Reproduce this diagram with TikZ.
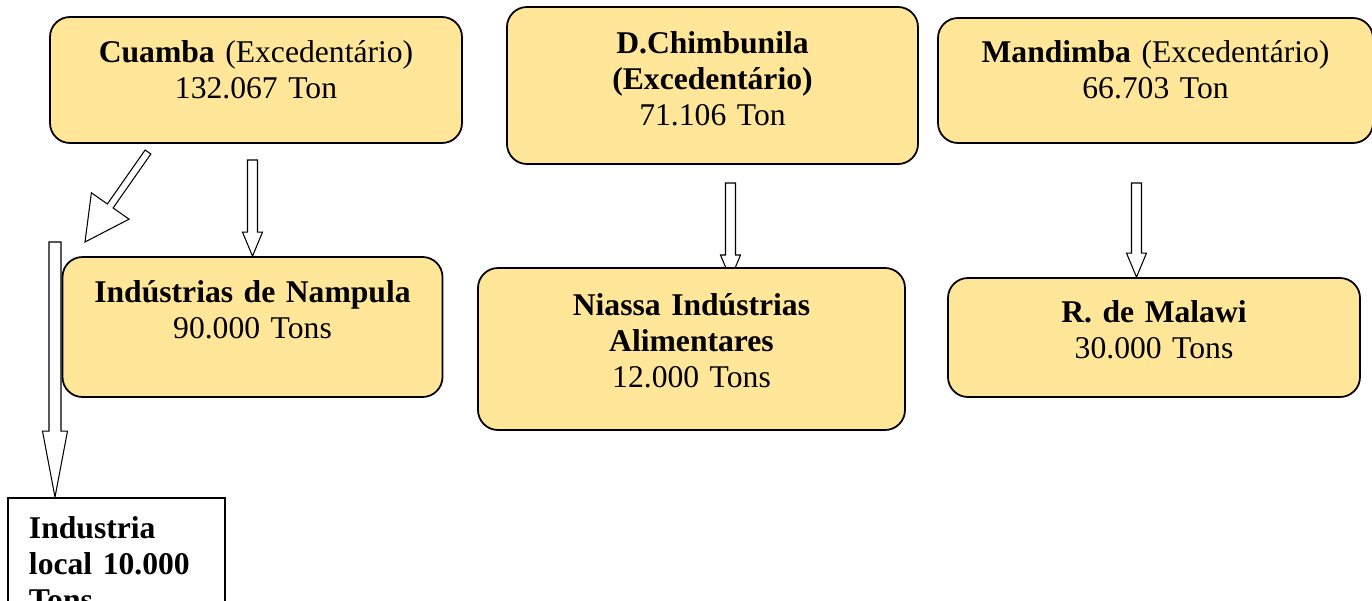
\documentclass[tikz,border=0pt]{standalone}
\usepackage{fontspec}
\setmainfont{Liberation Serif}
\usetikzlibrary{calc,backgrounds}
\definecolor{boxfill}{HTML}{FFE699}
\tikzset{
  blockarrow/.style n args={3}{draw, fill=white, line width=0.6pt, to path={
    ($(\tikztostart)!#3!-90:(\tikztotarget)$)
    -- ($(\tikztotarget)!#1!(\tikztostart)!#3!90:(\tikztostart)$)
    -- ($(\tikztotarget)!#1!(\tikztostart)!#2!90:(\tikztostart)$)
    -- (\tikztotarget)
    -- ($(\tikztotarget)!#1!(\tikztostart)!#2!-90:(\tikztostart)$)
    -- ($(\tikztotarget)!#1!(\tikztostart)!#3!-90:(\tikztostart)$)
    -- ($(\tikztostart)!#3!90:(\tikztotarget)$)
    -- cycle}}
}
\begin{document}
\begin{tikzpicture}[font=\fontsize{18}{20.7}\selectfont]
      \useasboundingbox (0,0) rectangle (27.44,-12);

      \begin{scope}[every node/.style={rectangle, rounded corners=0.4cm, draw, line width=1pt, fill=boxfill, inner sep=0pt, anchor=base, align=center, text width=7.6cm}]
        \node [minimum width=8.24cm, text height=0.90cm, text depth=1.62cm] (cuamba) at (5.12,-1.24) {\textbf{Cuamba} (Excedentário)\\132.067 Ton};
        \node [minimum width=7.54cm, text height=0.90cm, text depth=1.90cm] (nampula) at (5.05,-6.04) {\textbf{Indústrias de Nampula}\\90.000 Tons};
        \node [minimum width=8.22cm, text height=0.92cm, text depth=2.22cm] (chimbunila) at (14.25,-1.06) {\textbf{D.Chimbunila}\\\textbf{(Excedentário)}\\71.106 Ton};
        \node [minimum width=8.54cm, text height=0.94cm, text depth=2.30cm] (niassa) at (13.83,-6.30) {\textbf{Niassa Indústrias}\\\textbf{Alimentares}\\12.000 Tons};
        \node [minimum width=8.70cm, text height=0.88cm, text depth=1.62cm] (mandimba) at (23.11,-1.24) {\textbf{Mandimba} (Excedentário)\\66.703 Ton};
        \node [minimum width=8.24cm, text height=0.88cm, text depth=1.50cm] (malawi) at (23.08,-6.44) {\textbf{R. de Malawi}\\30.000 Tons};
      \end{scope}

      \node [rectangle, draw, line width=1pt, fill=white, inner xsep=0.42cm, inner ysep=0pt, anchor=base, align=left, text width=3.5cm, text height=0.80cm, text depth=2.04cm, font=\fontsize{18}{20.7}\selectfont\bfseries] (industria) at (2.33,-10.76) {Industria\\local 10.000\\Tons};

      \coordinate (c1) at (5.05,-3.20);
      \coordinate (c2) at (14.61,-3.66);
      \coordinate (c2t) at (14.61,-5.58);
      \coordinate (c3) at (22.73,-3.66);
      \coordinate (dstart) at (2.96,-3.04);
      \coordinate (dend) at (1.70,-4.84);
      \coordinate (lstart) at (1.10,-4.84);

      \begin{scope}[on background layer]
        \draw [blockarrow={0.48cm}{0.20cm}{0.10cm}] (c1) to (c1 |- nampula.north);
        \draw [blockarrow={0.48cm}{0.20cm}{0.10cm}] (c2) to (c2t);
        \draw [blockarrow={0.48cm}{0.20cm}{0.10cm}] (c3) to (c3 |- malawi.north);
        \draw [blockarrow={0.88cm}{0.46cm}{0.07cm}] (dstart) to (dend);
        \draw [blockarrow={1.32cm}{0.25cm}{0.12cm}] (lstart) to (lstart |- industria.north);
      \end{scope}
   \end{tikzpicture}
\end{document}
